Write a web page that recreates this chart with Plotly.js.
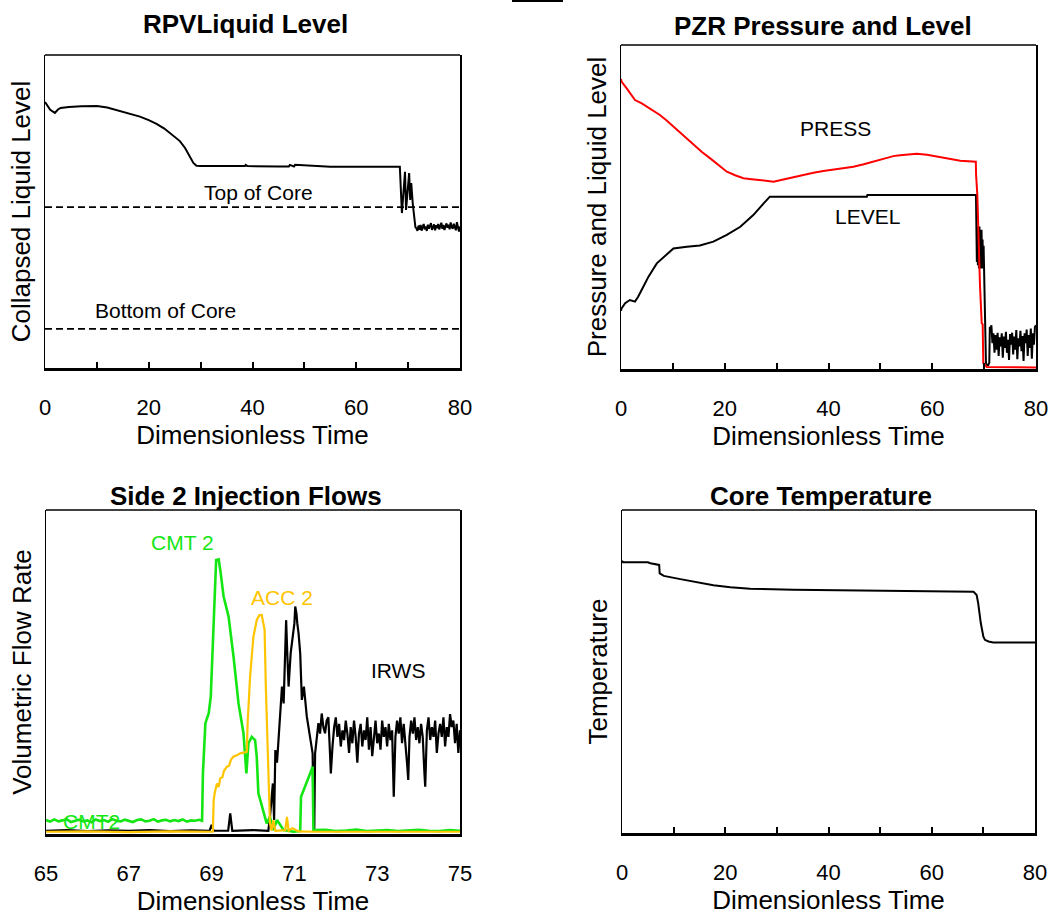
<!DOCTYPE html>
<html>
<head>
<meta charset="utf-8">
<script src="https://cdn.plot.ly/plotly-3.0.1.min.js"></script>
<style>html,body{margin:0;padding:0;background:#fff;}#chart{width:1053px;height:919px;}</style>
</head>
<body>
<div id="chart"></div>
<script>
// ---------------- DATA ----------------
// Panel 1: RPV liquid level
const rpvTime = [0, 0.3, 1.0, 1.9, 2.5, 3.0, 4.6, 7.0, 10.0, 12.0, 13.8, 16.0, 18.3, 20.0, 21.5, 23.0, 24.7, 26.0, 27.0, 28.0, 28.6, 29.2, 30.0, 35.0, 38.5, 38.7, 39.0, 45.0, 47.0, 47.2, 48.0, 48.2, 55.0, 62.0, 68.4, 68.8, 69.1, 69.4, 69.6, 69.9, 70.2, 70.4, 70.6, 70.9, 71.2, 71.4,
  71.6, 71.8, 72.0, 72.2, 72.4, 72.6, 72.8, 73.0, 73.2, 73.4, 73.6, 73.8, 74.0, 74.2, 74.4, 74.6, 74.8, 75.0, 75.2, 75.4, 75.6, 75.8, 76.0, 76.2, 76.4, 76.6, 76.8, 77.0, 77.2, 77.4, 77.6, 77.8, 78.0, 78.2, 78.4, 78.6, 78.8, 79.0, 79.2, 79.4, 79.6, 79.8, 80.0];
const rpvLevel = [85.0, 84.2, 82.5, 81.5, 82.6, 83.1, 83.4, 83.6, 83.7, 83.2, 82.4, 81.5, 80.3, 79.2, 78.0, 76.5, 74.4, 72.5, 70.3, 67.5, 65.5, 64.6, 64.5, 64.5, 64.5, 64.9, 64.5, 64.4, 64.4, 64.9, 64.4, 64.9, 64.3, 64.3, 64.3, 49.5, 58.0, 62.7, 50.5, 58.0, 62.3, 53.7, 59.1, 52.4, 46.3, 45.0,
  44.6, 43.8, 45.5, 44.2, 45.7, 43.9, 45.0, 46.0, 44.3, 45.2, 43.8, 45.8, 44.5, 45.3, 46.3, 44.1, 45.0, 45.9, 44.0, 45.6, 44.7, 46.0, 44.3, 45.3, 46.4, 44.5, 45.7, 44.1, 45.5, 46.2, 44.8, 45.8, 44.3, 46.5, 45.0, 44.5, 46.1, 45.3, 44.0, 46.6, 45.4, 43.6, 45.2];
const coreRefNames = ['Top of Core', 'Bottom of Core'];
const coreRefLevels = [51.4, 12.5];
const fullTimeSpan = [0, 80];

// Panel 2: PZR pressure and level
const pzrPressTime = [0, 0.1, 1.1, 2.7, 4.0, 5.0, 6.3, 7.5, 8.8, 10.1, 12.0, 14.0, 15.6, 17.2, 18.8, 20.4, 22.0, 23.6, 25.2, 26.8, 28.0, 29.4, 31.3, 33.2, 35.1, 37.1, 39.0, 41.0, 42.9, 44.8, 46.8, 48.7, 50.0, 51.3, 52.5, 53.8, 55.4, 57.0, 59.0, 60.9, 63.0, 65.4, 68.4, 68.45, 68.69, 69.07, 69.2, 69.53, 69.72, 69.84, 70.5, 80];
const pzrPress = [89.5, 88.7, 86.6, 83.0, 82.0, 81.0, 79.8, 78.4, 76.7, 74.8, 72.0, 69.1, 67.0, 65.0, 62.8, 60.9, 59.8, 58.9, 58.6, 58.3, 58.0, 57.8, 58.5, 59.2, 59.9, 60.6, 61.1, 61.6, 62.0, 62.4, 63.2, 64.0, 64.7, 65.3, 65.7, 66.0, 66.3, 66.4, 66.1, 65.5, 65.0, 64.3, 64.0, 60.0, 53.7, 26.5, 25.9, 14.2, 13.8, 1.85, 0.6, 0.5];
const pzrLevelTime = [0, 0.1, 0.8, 1.7, 2.7, 3.3, 4.3, 5.3, 6.9, 8.8, 10.1, 12.7, 15.2, 17.8, 20.4, 23.0, 25.5, 27.5, 28.7, 47.4, 47.5, 68.43, 68.5, 68.6, 68.7, 68.8, 68.9, 69.0, 69.1, 69.2, 69.3, 69.4, 69.5, 69.6, 69.7, 69.8, 69.9, 70.0, 70.1, 70.2, 70.35, 70.5, 70.8, 71.0, 71.1,
  71.2, 71.4, 71.6, 71.8, 72.0, 72.2, 72.4, 72.6, 72.8, 73.0, 73.2, 73.4, 73.6, 73.8, 74.0, 74.2, 74.4, 74.6, 74.8, 75.0, 75.2, 75.4, 75.6, 75.8, 76.0, 76.2, 76.4, 76.6, 76.8, 77.0, 77.2, 77.4, 77.6, 77.8, 78.0, 78.2, 78.4, 78.6, 78.8, 79.0, 79.2, 79.4, 79.6, 79.8, 80.0];
const pzrLevel = [18.0, 18.7, 20.3, 21.3, 20.8, 22.3, 25.4, 28.5, 32.6, 35.2, 37.2, 37.7, 38.1, 39.3, 41.4, 43.9, 47.5, 51.1, 53.2, 53.2, 53.7, 53.7, 43, 33, 44, 32, 43, 31, 44, 34, 42, 31, 43, 32, 40, 31, 38, 30, 24, 18, 2, 1.2, 1.2, 2, 13,
  12.0, 13.5, 8.0, 11.0, 5.0, 10.5, 6.0, 11.2, 4.0, 9.8, 7.0, 11.0, 3.5, 10.0, 6.5, 11.5, 5.0, 9.0, 2.8, 10.8, 7.5, 11.2, 4.5, 10.0, 6.0, 12.0, 3.0, 9.5, 7.0, 11.8, 5.5, 10.2, 2.5, 11.0, 8.0, 12.2, 4.0, 10.5, 6.5, 12.5, 3.2, 11.0, 7.5, 13.0, 13.5];

// Panel 3: Side 2 injection flows
const cmtTime = [65.0, 65.1, 65.2, 65.3, 65.4, 65.5, 65.6, 65.7, 65.8, 65.9, 66.0, 66.1, 66.2, 66.3, 66.4, 66.5, 66.6, 66.7, 66.8, 66.9, 67.0, 67.1, 67.2, 67.3, 67.4, 67.5, 67.6, 67.7, 67.8, 67.9, 68.0, 68.1, 68.2, 68.3, 68.4, 68.5, 68.6, 68.7,
  68.77, 68.79, 68.85, 68.93, 68.98, 69.05, 69.11, 69.17, 69.21, 69.29, 69.41, 69.53, 69.65, 69.77, 69.84, 69.89, 69.97, 70.05, 70.09, 70.13, 70.25, 70.33, 70.41, 70.49, 70.58, 70.74, 70.98, 71.14, 71.16, 71.26, 71.38, 71.44, 71.46,
  71.75, 72.0, 72.25, 72.5, 72.75, 73.0, 73.25, 73.5, 73.75, 74.0, 74.25, 74.5, 74.75, 75.0];
const cmtFlow = [4.3, 3.8, 4.5, 3.9, 4.2, 4.6, 3.7, 4.1, 4.4, 3.9, 4.2, 3.6, 4.5, 4.0, 4.3, 3.8, 4.6, 4.1, 3.9, 4.4, 4.0, 3.7, 4.3, 4.5, 3.9, 4.1, 4.6, 3.8, 4.2, 4.4, 3.9, 4.3, 4.0, 4.5, 3.8, 4.2, 4.1, 4.4,
  4.1, 18.7, 34.2, 37.2, 42.4, 66.0, 84.6, 84.8, 81.5, 73.3, 67.1, 54.7, 40.3, 31.1, 18.7, 28.0, 30.0, 29.0, 23.9, 12.6, 7.4, 3.3, 5.3, 1.2, 4.3, 1.2, 0.7, 0.9, 11.5, 14.6, 18.7, 20.8, 1.2,
  1.3, 0.9, 1.1, 1.4, 0.9, 1.0, 1.2, 0.9, 1.1, 1.3, 1.0, 0.9, 1.2, 1.0];
const accTime = [65.0, 66.0, 67.0, 68.0, 69.03, 69.05, 69.08, 69.13, 69.17, 69.21, 69.26, 69.30, 69.37, 69.42, 69.47, 69.53, 69.60, 69.69, 69.77, 69.85, 69.87, 69.93, 70.01, 70.09, 70.15, 70.21, 70.25, 70.28, 70.31, 70.36, 70.41, 70.45, 70.49, 70.54, 70.78, 70.82, 70.86, 70.95, 71.1, 71.5, 72.5, 73.5, 75.0];
const accFlow = [0.7, 0.8, 0.6, 0.8, 0.7, 10.5, 13.0, 15.6, 14.5, 17.2, 17.5, 19.5, 20.8, 21.0, 23.0, 23.9, 24.2, 24.9, 25.1, 25.4, 34.2, 48.6, 60.9, 66.0, 67.5, 67.6, 65.0, 63.0, 45.5, 19.8, 3.3, 1.0, 4.3, 1.0, 1.2, 5.3, 1.0, 1.8, 0.8, 0.7, 0.8, 0.7, 0.7];
const irwsTime = [65.0, 65.5, 66.0, 66.5, 67.0, 67.5, 68.0, 68.5, 68.95, 69.0, 69.05, 69.4, 69.45, 69.5, 70.0, 70.37,
  70.41, 70.45, 70.48, 70.51, 70.54, 70.58, 70.62, 70.66, 70.70, 70.74, 70.77, 70.80, 70.83, 70.86, 70.91, 70.96, 71.00, 71.02, 71.05, 71.07, 71.10, 71.14, 71.18, 71.23, 71.27, 71.30, 71.34, 71.38, 71.44, 71.46, 71.48,
  71.50, 71.54, 71.58, 71.62, 71.66, 71.70, 71.74, 71.78, 71.82, 71.86, 71.88, 71.92, 71.96, 72.00, 72.04, 72.08, 72.12, 72.16, 72.20, 72.24, 72.28, 72.32, 72.36, 72.40, 72.44, 72.48, 72.52, 72.56, 72.60, 72.64, 72.68, 72.72, 72.76, 72.80, 72.84, 72.88, 72.92, 72.96,
  73.00, 73.04, 73.08, 73.12, 73.16, 73.20, 73.24, 73.28, 73.32, 73.36, 73.40, 73.44, 73.48, 73.52, 73.56, 73.60, 73.64, 73.68, 73.72, 73.75, 73.78, 73.82, 73.86, 73.90, 73.94, 73.98,
  74.02, 74.06, 74.10, 74.14, 74.16, 74.20, 74.24, 74.28, 74.32, 74.36, 74.40, 74.44, 74.48, 74.52, 74.56, 74.60, 74.64, 74.68, 74.72, 74.76, 74.80, 74.84, 74.88, 74.92, 74.96, 75.00];
const irwsFlow = [1.0, 1.2, 0.9, 1.1, 1.0, 1.2, 0.9, 1.1, 1.0, 2.8, 1.0, 1.0, 6.4, 1.0, 1.2, 1.0,
  5.3, 12.0, 15.6, 4.3, 25.9, 22.0, 30.0, 35.0, 45.5, 40.3, 52.0, 66.0, 55.0, 45.5, 55.8, 60.9, 65.0, 70.2, 68.0, 65.0, 62.0, 55.8, 41.4, 45.5, 40.0, 36.2, 33.0, 30.0, 24.9, 8.0, 1.2,
  24.9, 30.0, 34.2, 31.0, 37.2, 33.0, 31.1, 35.0, 36.0, 25.0, 18.7, 27.0, 33.0, 36.0, 30.0, 34.0, 27.0, 32.0, 29.0, 35.0, 31.0, 25.0, 33.0, 28.0, 35.0, 30.0, 22.0, 31.0, 34.0, 27.0, 32.0, 29.0, 36.0, 26.0, 33.0, 24.0, 30.0, 35.0,
  28.0, 31.0, 26.0, 35.0, 30.0, 33.0, 27.0, 34.0, 29.0, 32.0, 11.5, 30.0, 35.0, 31.0, 36.0, 28.0, 34.0, 29.0, 22.0, 16.7, 30.0, 35.0, 31.0, 36.0, 29.0, 33.0,
  28.0, 34.0, 30.0, 19.0, 14.6, 32.0, 36.0, 29.0, 33.0, 30.0, 35.0, 25.0, 31.0, 34.0, 30.0, 36.0, 27.0, 33.0, 30.0, 37.0, 33.0, 35.0, 28.0, 34.0, 25.0, 32.0];

// Panel 4: core temperature
const coreTime = [0, 0.2, 3.0, 5.0, 5.5, 7.2, 7.3, 8.1, 11.3, 15.2, 17.7, 21.0, 24.8, 33.2, 46.1, 55.0, 68.1, 68.7, 69.0, 69.5, 70.0, 70.3, 71.0, 71.9, 80];
const coreTemp = [84.3, 83.8, 83.8, 83.8, 83.5, 83.0, 80.4, 79.6, 78.6, 77.5, 76.7, 76.1, 75.6, 75.3, 75.1, 74.9, 74.7, 73.7, 71.1, 65.0, 60.8, 59.8, 59.3, 59.0, 59.0];

// Text labels
const panelTitles = ['RPVLiquid Level', 'PZR Pressure and Level', 'Side 2 Injection Flows', 'Core Temperature'];
const yTitles = ['Collapsed Liquid Level', 'Pressure and Liquid Level', 'Volumetric Flow Rate', 'Temperature'];
const xTitle = 'Dimensionless Time';
const flowTicks = [65, 67, 69, 71, 73, 75];
const timeTicks = [0, 20, 40, 60, 80];
const timeMinorTicks = [10, 30, 50, 70];

// ---------------- STYLE ----------------
const FONT = 'Liberation Sans, Arial, Helvetica, sans-serif';
const GREEN = '#14e614', GOLD = '#ffc400', RED = '#ff0000';
const W = 1053, H = 919;
const px = v => v / W, py = v => 1 - v / H;

const boxes = [
  {x: [45, 460], y: [55, 368]},
  {x: [621, 1036], y: [45, 369]},
  {x: [46, 460], y: [510, 834]},
  {x: [622, 1035], y: [510, 833]}
];

const traces = [];
function line(x, y, ax, color, width, dash, name) {
  traces.push({x: x, y: y, xaxis: 'x' + ax, yaxis: 'y' + ax, type: 'scatter', mode: 'lines', name: name,
    line: {color: color, width: width, dash: dash || 'solid'}, hoverinfo: 'skip', showlegend: false});
}
// panel 1
coreRefLevels.forEach((lv, i) => line(fullTimeSpan, [lv, lv], '', 'black', 1.6, '7px,4px', coreRefNames[i]));
line(rpvTime, rpvLevel, '', 'black', 2, null, 'RPV level');
// panel 2
line(pzrLevelTime, pzrLevel, '2', 'black', 2, null, 'LEVEL');
line(pzrPressTime, pzrPress, '2', RED, 2, null, 'PRESS');
// panel 3
line(irwsTime, irwsFlow, '3', 'black', 2.2, null, 'IRWS');
line(cmtTime, cmtFlow, '3', GREEN, 2.6, null, 'CMT 2');
line(accTime, accFlow, '3', GOLD, 2.2, null, 'ACC 2');
// panel 4
line(coreTime, coreTemp, '4', 'black', 2, null, 'Core temperature');

function xAxis(i, range, tickvals, withTicks) {
  const b = boxes[i];
  const ax = {
    domain: [px(b.x[0]), px(b.x[1])], range: range, anchor: i === 0 ? 'y' : 'y' + (i + 1),
    showline: true, linecolor: 'black', linewidth: 2.5, mirror: false,
    showgrid: false, zeroline: false, fixedrange: true,
    tickmode: 'array', tickvals: tickvals,
    tickfont: {family: FONT, size: 22, color: 'black'}, ticklabelstandoff: 18,
    title: {text: xTitle, font: {family: FONT, size: 26, color: 'black'}, standoff: 2},
    automargin: false
  };
  if (withTicks) {
    ax.ticks = 'inside'; ax.ticklen = 6; ax.tickwidth = 2; ax.tickcolor = 'black';
    ax.minor = {tickvals: timeMinorTicks, ticks: 'inside', ticklen: 6, tickwidth: 2, tickcolor: 'black', showgrid: false};
  } else {
    ax.ticks = '';
  }
  return ax;
}
function yAxis(i) {
  const b = boxes[i];
  return {
    domain: [py(b.y[1]), py(b.y[0])], range: [0, 100], anchor: i === 0 ? 'x' : 'x' + (i + 1),
    showline: true, linecolor: 'black', linewidth: 1.5, mirror: true,
    showgrid: false, zeroline: false, showticklabels: false, ticks: '', fixedrange: true,
    title: {text: yTitles[i], font: {family: FONT, size: 26, color: 'black'}, standoff: 5},
    automargin: false
  };
}

const titlePos = [[245.5, 24], [823, 26], [246, 496], [821, 496]];
const annotations = panelTitles.map((t, i) => ({
  text: '<b>' + t + '</b>', xref: 'paper', yref: 'paper', x: px(titlePos[i][0]), y: py(titlePos[i][1]),
  xanchor: 'center', yanchor: 'middle', showarrow: false, font: {family: FONT, size: 26, color: 'black'}
}));
function label(text, x, y, ax, color) {
  annotations.push({text: text, x: x, y: y, xref: 'x' + ax, yref: 'y' + ax, xanchor: 'center', yanchor: 'middle',
    showarrow: false, font: {family: FONT, size: 21, color: color}});
}
label(coreRefNames[0], 41.1, 56.0, '', 'black');
label(coreRefNames[1], 23.3, 18.5, '', 'black');
label('PRESS', 41.4, 74.3, '2', 'black');
label('LEVEL', 47.5, 47.2, '2', 'black');
label('CMT 2', 68.29, 89.9, '3', GREEN);
label('ACC 2', 70.70, 73.0, '3', GOLD);
label('IRWS', 73.51, 50.4, '3', 'black');
label('CMT2', 66.11, 3.8, '3', GREEN);

const shapes = [];
['', '2', '3', '4'].forEach(s => {
  shapes.push({type: 'line', xref: 'x' + s + ' domain', yref: 'y' + s + ' domain', x0: 0, x1: 1, y0: 1, y1: 1,
    line: {color: 'black', width: 1.5}});
});
// small cropped mark at the top edge of the figure
shapes.push({type: 'line', xref: 'paper', yref: 'paper', x0: px(512), x1: px(563), y0: py(0.8), y1: py(0.8), line: {color: 'black', width: 2.5}});

const layout = {
  width: W, height: H, margin: {l: 0, r: 0, t: 0, b: 0},
  paper_bgcolor: 'white', plot_bgcolor: 'white',
  font: {family: FONT, color: 'black'}, showlegend: false,
  xaxis: xAxis(0, fullTimeSpan, timeTicks, true),
  yaxis: yAxis(0),
  xaxis2: xAxis(1, fullTimeSpan, timeTicks, true),
  yaxis2: yAxis(1),
  xaxis3: xAxis(2, [65, 75], flowTicks, false),
  yaxis3: yAxis(2),
  xaxis4: xAxis(3, fullTimeSpan, timeTicks, true),
  yaxis4: yAxis(3),
  annotations: annotations, shapes: shapes
};
Plotly.newPlot('chart', traces, layout, {staticPlot: true, displayModeBar: false});
</script>
</body>
</html>
